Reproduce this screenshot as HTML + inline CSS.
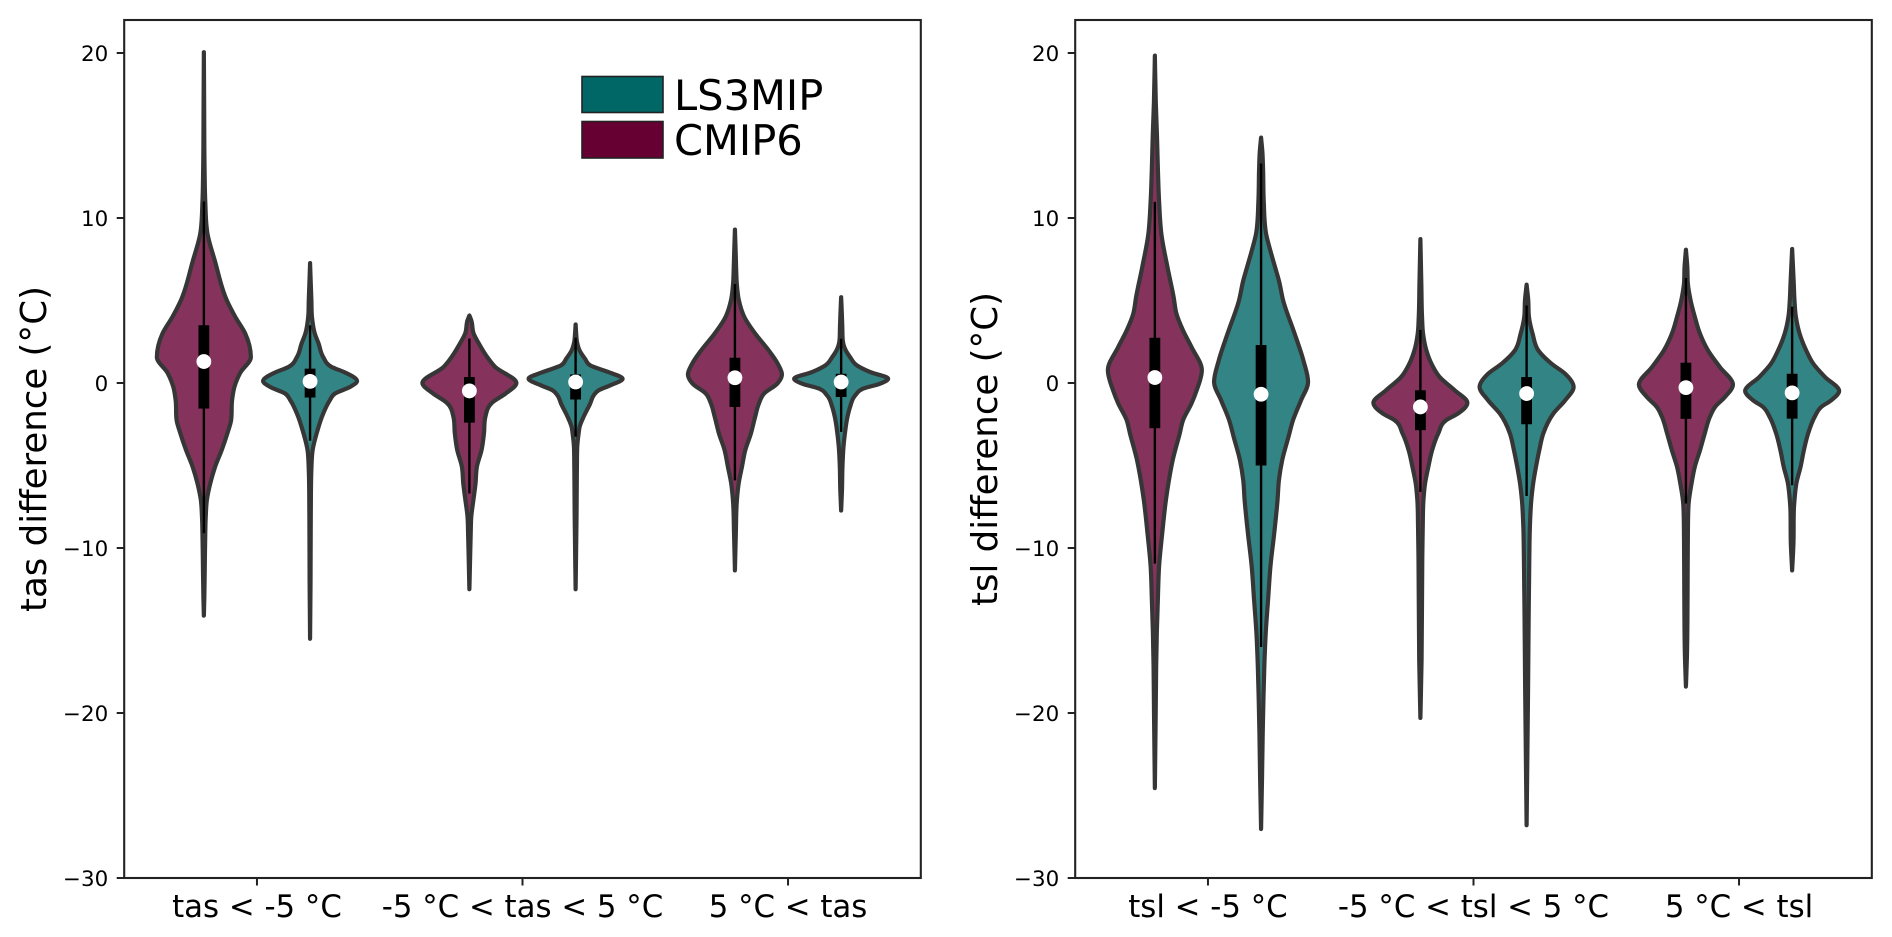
<!DOCTYPE html>
<html lang="en">
<head>
<meta charset="utf-8">
<title>tas and tsl difference violin plots</title>
<style>
html,body{margin:0;padding:0;background:#fff;}
svg{display:block;}
text{font-family:"DejaVu Sans","Liberation Sans",sans-serif;fill:#000;}
</style>
</head>
<body>
<svg id="chart" xmlns="http://www.w3.org/2000/svg" width="1892" height="937" viewBox="0 0 1892 937">
  <rect x="0" y="0" width="1892" height="937" fill="#fff"/>
</svg>
<script>
// ---------- tick and category labels ----------
const yTickValues = [20, 10, 0, -10, -20, -30];
const tasCategories = ['tas < -5 °C', '-5 °C < tas < 5 °C', '5 °C < tas'];
const tslCategories = ['tsl < -5 °C', '-5 °C < tsl < 5 °C', '5 °C < tsl'];

// ---------- violin outlines: temperature levels (°C) and relative density (0..1) ----------
const tasColdCmip6Levels = [20.05,17,13,11,9,7.4,5,4,3,1.57,.6,-.24,-1.05,-2.25,-3.05,-4.06,-5.07,-6.1,-7.1,-8.1,-9.1,-11,-13,-14.1];
const tasColdCmip6Density = [0,.006,.015,.03,.08,.235,.49,.67,.88,1,.77,.65,.6,.58,.5,.38,.24,.135,.064,.04,.03,.02,.01,0];
const tasColdLs3mipLevels = [7.27,6,5,4,3,2.4,1.57,.97,.63,.12,-.24,-.64,-1.05,-1.85,-3.05,-4.05,-5.07,-8,-12,-15.5];
const tasColdLs3mipDensity = [0,.015,.028,.04,.1,.18,.28,.46,.75,1,.85,.53,.42,.28,.14,.055,.03,.015,.01,0];
const tasMidCmip6Levels = [4.09,3.8,3,2.4,1.57,.97,0,-.64,-1.2,-2.05,-3.05,-4.05,-5.07,-6.1,-7.1,-8.1,-9.1,-11,-12.5];
const tasMidCmip6Density = [0,.04,.09,.2,.38,.55,1,.77,.48,.34,.31,.26,.16,.13,.085,.04,.028,.012,0];
const tasMidLs3mipLevels = [3.55,3,2.48,1.97,1.47,1.07,.66,.26,-.14,-.44,-.75,-1.25,-2.05,-2.66,-3.06,-3.87,-5.07,-8,-12.5];
const tasMidLs3mipDensity = [0,.012,.03,.085,.2,.31,.7,1,.74,.49,.385,.31,.17,.085,.064,.035,.028,.02,0];
const tasWarmCmip6Levels = [9.3,8,7,6,5,4,3,1.97,1.17,.52,-.04,-.64,-1.25,-2.05,-3.06,-4.07,-5.07,-6.08,-7.1,-9,-11.36];
const tasWarmCmip6Density = [0,.015,.025,.04,.085,.2,.43,.72,.91,1,.9,.62,.51,.43,.34,.22,.15,.08,.042,.02,0];
const tasWarmLs3mipLevels = [5.2,4.2,3.38,2.58,1.97,1.57,1.07,.66,.26,-.04,-.34,-.75,-1.45,-2.05,-3.06,-3.87,-5.07,-6.5,-7.73];
const tasWarmLs3mipDensity = [0,.015,.025,.035,.1,.19,.335,.62,1,.83,.47,.3,.19,.135,.08,.05,.028,.018,0];
const tslColdCmip6Levels = [19.84,17,15,13,11,9,7,5.2,4.19,3.18,2.18,.77,-.44,-1.24,-2.25,-3.05,-4.67,-5.88,-7.1,-9.1,-11.1,-13.1,-15.1,-17.1,-20,-24.55];
const tslColdCmip6Density = [0,.02,.045,.064,.09,.14,.27,.4,.46,.6,.78,1,.89,.78,.6,.53,.38,.3,.235,.157,.09,.064,.042,.028,.018,0];
const tslColdLs3mipLevels = [14.87,14,13,11,9,8,7,6.2,5,3.1,1.37,.06,-1.05,-2.25,-3.3,-4.67,-5.88,-7.1,-9.1,-11.1,-13.1,-15.1,-17.1,-19.2,-21.2,-24,-27.03];
const tslColdLs3mipDensity = [0,.028,.042,.057,.11,.2,.3,.38,.47,.7,.9,1,.85,.68,.58,.45,.38,.35,.28,.2,.15,.1,.07,.05,.035,.02,0];
const tslMidCmip6Levels = [8.72,6,4,2.98,1.97,1.17,.36,-.44,-1.2,-1.85,-2.25,-3.06,-4.07,-5.07,-6.08,-7.09,-8.7,-10.7,-16.8,-20.3];
const tslMidCmip6Density = [0,.02,.035,.057,.128,.235,.41,.73,1,.8,.55,.38,.25,.17,.1,.065,.05,.04,.025,0];
const tslMidLs3mipLevels = [5.96,5,4,2.98,1.97,1.17,.56,-.24,-1.05,-1.85,-3.06,-4.07,-5.07,-6.08,-7.09,-8.7,-10.7,-14.7,-18.8,-22.8,-26.8];
const tslMidLs3mipDensity = [0,.035,.05,.128,.25,.53,.82,1,.82,.57,.355,.27,.2,.14,.1,.07,.057,.042,.03,.015,0];
const tslWarmCmip6Levels = [8.08,7,6,5,4,2.98,1.97,.97,-.1,-.85,-1.45,-2.05,-3.06,-4.07,-5.07,-6.08,-7.4,-9.7,-12.7,-16.7,-18.4];
const tslWarmCmip6Density = [0,.03,.042,.1,.19,.3,.47,.72,1,.83,.62,.51,.4,.3,.19,.12,.055,.04,.035,.02,0];
const tslWarmLs3mipLevels = [8.12,6,5,4,2.98,1.97,1.17,.36,-.48,-1.05,-1.45,-2.05,-3.06,-4.07,-5.07,-6.08,-7.09,-7.7,-9.7,-11.36];
const tslWarmLs3mipDensity = [0,.035,.05,.08,.16,.3,.45,.7,1,.83,.62,.48,.34,.25,.18,.09,.05,.036,.028,0];

// ---------- box statistics by category (cold, mid, warm) ----------
const tasCmip6Median = [1.3,-.48,.32];
const tasCmip6Q3 = [3.5,.36,1.53];
const tasCmip6Q1 = [-1.55,-2.4,-1.45];
const tasCmip6WhiskerHigh = [11,2.7,6];
const tasCmip6WhiskerLow = [-9.1,-6.7,-5.9];
const tasLs3mipMedian = [.1,.06,.06];
const tasLs3mipQ3 = [.87,.52,.56];
const tasLs3mipQ1 = [-.88,-1,-.85];
const tasLs3mipWhiskerHigh = [3.5,2.74,2.68];
const tasLs3mipWhiskerLow = [-3.5,-3.26,-2.96];
const tslCmip6Median = [.33,-1.45,-.28];
const tslCmip6Q3 = [2.74,-.44,1.23];
const tslCmip6Q1 = [-2.74,-2.86,-2.17];
const tslCmip6WhiskerHigh = [10.98,3.22,6.36];
const tslCmip6WhiskerLow = [-10.95,-6.6,-7.3];
const tslLs3mipMedian = [-.68,-.64,-.6];
const tslLs3mipQ3 = [2.3,.36,.56];
const tslLs3mipQ1 = [-5,-2.5,-2.16];
const tslLs3mipWhiskerHigh = [13.3,4.7,4.63];
const tslLs3mipWhiskerLow = [-16,-6.85,-6.2];

// ---------- layout ----------
const NS = 'http://www.w3.org/2000/svg';
const svg = document.getElementById('chart');
const AXIS_TOP = 20, AXIS_BOTTOM = 878, AXIS_W = 796.6;
const Y_MIN = -30, Y_MAX = 22;
const HUE_OFFSET = 0.2, DENSITY_SPAN = 0.177;
const INK = '#222', OUTLINE = '#363636';
const COLORS = { cmip6: '#660033', ls3mip: '#006666' };

function yScale(v) { return AXIS_BOTTOM - (v - Y_MIN) / (Y_MAX - Y_MIN) * (AXIS_BOTTOM - AXIS_TOP); }
function xScale(panel, pos) { return panel.left + (pos + 0.5) / 3 * AXIS_W; }
function widthScale(d) { return d * DENSITY_SPAN * AXIS_W / 3; }

function make(tag, attrs, parent) {
  const el = document.createElementNS(NS, tag);
  for (const k in attrs) el.setAttribute(k, attrs[k]);
  parent.appendChild(el);
  return el;
}

// Smooth cubic through the points (offset, pixelY): three-point tangents with a
// limiter that only stops overshoot, written as Bézier segments.
function smoothSegments(ys, xs) {
  const n = ys.length, h = [], s = [], m = [];
  for (let i = 0; i < n - 1; i++) { h.push(ys[i+1] - ys[i]); s.push((xs[i+1] - xs[i]) / h[i]); }
  m[0] = s[0]; m[n-1] = s[n-2];
  for (let i = 1; i < n - 1; i++) {
    if (s[i-1] * s[i] <= 0) { m[i] = 0; continue; }
    const t = (h[i] * s[i-1] + h[i-1] * s[i]) / (h[i-1] + h[i]);
    const lim = 3 * Math.min(Math.abs(s[i-1]), Math.abs(s[i]));
    m[i] = Math.sign(t) * Math.min(Math.abs(t), lim);
  }
  const segs = [];
  for (let i = 0; i < n - 1; i++) {
    segs.push([ys[i] + h[i]/3, xs[i] + m[i]*h[i]/3, ys[i+1] - h[i]/3, xs[i+1] - m[i+1]*h[i]/3, ys[i+1], xs[i+1]]);
  }
  return segs;
}

function violinPath(cx, levels, density) {
  const ys = levels.map(yScale);
  const ws = density.map(widthScale);
  const segs = smoothSegments(ys, ws);
  const f = n => n.toFixed(2);
  let d = 'M' + f(cx + ws[0]) + ' ' + f(ys[0]);
  segs.forEach(g => {
    d += 'C' + f(cx + g[1]) + ' ' + f(g[0]) + ' ' + f(cx + g[3]) + ' ' + f(g[2]) + ' ' + f(cx + g[5]) + ' ' + f(g[4]);
  });
  for (let i = segs.length - 1; i >= 0; i--) {
    const g = segs[i];
    const prevY = ys[i], prevW = ws[i];
    d += 'C' + f(cx - g[3]) + ' ' + f(g[2]) + ' ' + f(cx - g[1]) + ' ' + f(g[0]) + ' ' + f(cx - prevW) + ' ' + f(prevY);
  }
  return d + 'Z';
}

const panels = [
  {
    key: 'tas', left: 124.2, title: 'tas difference (°C)', titleX: 46, categories: tasCategories,
    cmip6: { levels: [tasColdCmip6Levels, tasMidCmip6Levels, tasWarmCmip6Levels], density: [tasColdCmip6Density, tasMidCmip6Density, tasWarmCmip6Density], median: tasCmip6Median, q1: tasCmip6Q1, q3: tasCmip6Q3, lo: tasCmip6WhiskerLow, hi: tasCmip6WhiskerHigh },
    ls3mip: { levels: [tasColdLs3mipLevels, tasMidLs3mipLevels, tasWarmLs3mipLevels], density: [tasColdLs3mipDensity, tasMidLs3mipDensity, tasWarmLs3mipDensity], median: tasLs3mipMedian, q1: tasLs3mipQ1, q3: tasLs3mipQ3, lo: tasLs3mipWhiskerLow, hi: tasLs3mipWhiskerHigh }
  },
  {
    key: 'tsl', left: 1075.2, title: 'tsl difference (°C)', titleX: 997, categories: tslCategories,
    cmip6: { levels: [tslColdCmip6Levels, tslMidCmip6Levels, tslWarmCmip6Levels], density: [tslColdCmip6Density, tslMidCmip6Density, tslWarmCmip6Density], median: tslCmip6Median, q1: tslCmip6Q1, q3: tslCmip6Q3, lo: tslCmip6WhiskerLow, hi: tslCmip6WhiskerHigh },
    ls3mip: { levels: [tslColdLs3mipLevels, tslMidLs3mipLevels, tslWarmLs3mipLevels], density: [tslColdLs3mipDensity, tslMidLs3mipDensity, tslWarmLs3mipDensity], median: tslLs3mipMedian, q1: tslLs3mipQ1, q3: tslLs3mipQ3, lo: tslLs3mipWhiskerLow, hi: tslLs3mipWhiskerHigh }
  }
];

function drawViolin(group, panel, series, cat, offset) {
  const s = panel[series];
  const cx = xScale(panel, cat + offset);
  const slug = panel.key + '-' + series + '-' + cat;

  const body = make('path', { d: violinPath(cx, s.levels[cat], s.density[cat]), fill: COLORS[series], 'fill-opacity': 0.8, stroke: OUTLINE, 'stroke-width': 4.2, 'stroke-linejoin': 'round' }, group);
  
  

  const whisker = make('line', { x1: cx, x2: cx, y1: yScale(s.hi[cat]), y2: yScale(s.lo[cat]), stroke: '#000', 'stroke-width': 2.4 }, group);
  
  

  const box = make('rect', { x: cx - 5.4, width: 10.8, y: yScale(s.q3[cat]), height: yScale(s.q1[cat]) - yScale(s.q3[cat]), fill: '#000' }, group);
  
  

  const median = make('circle', { cx: cx, cy: yScale(s.median[cat]), r: 7.4, fill: '#fff' }, group);
  
  
}

panels.forEach(panel => {
  const g = make('g', {}, svg);
  
  

  yTickValues.forEach(v => {
    const y = yScale(v);
    const tick = make('line', { x1: panel.left - 7.5, x2: panel.left, y1: y, y2: y, stroke: INK, 'stroke-width': 2 }, g);
    
    
    const label = make('text', { x: panel.left - 16, y: y + 8, 'text-anchor': 'end', 'font-size': 21.4, fill: '#111' }, g);
    label.textContent = String(v).replace('-', '\u2212');
    
    
  });

  panel.categories.forEach((c, i) => {
    const x = xScale(panel, i);
    const tick = make('line', { x1: x, x2: x, y1: AXIS_BOTTOM, y2: AXIS_BOTTOM + 7.5, stroke: INK, 'stroke-width': 2 }, g);
    
    
    const label = make('text', { x: x, y: 917, 'text-anchor': 'middle', 'font-size': 30.8 }, g);
    label.textContent = c;
    
    
  });

  panel.categories.forEach((c, i) => {
    drawViolin(g, panel, 'cmip6', i, -HUE_OFFSET);
    drawViolin(g, panel, 'ls3mip', i, HUE_OFFSET);
  });

  const frame = make('rect', { x: panel.left, y: AXIS_TOP, width: AXIS_W, height: AXIS_BOTTOM - AXIS_TOP, fill: 'none', stroke: INK, 'stroke-width': 2.1 }, g);
  
  

  const midY = (AXIS_TOP + AXIS_BOTTOM) / 2;
  const title = make('text', { x: panel.titleX, y: midY, 'text-anchor': 'middle', 'font-size': 35.6, transform: 'rotate(-90 ' + panel.titleX + ' ' + midY + ')' }, g);
  title.textContent = panel.title;
  
  
});

// ---------- legend ----------
const legend = make('g', {}, svg);



const swatchA = make('rect', { x: 582, y: 76.5, width: 81, height: 36, fill: COLORS.ls3mip, stroke: '#222', 'stroke-width': 1.6 }, legend);


const labelA = make('text', { x: 674, y: 110, 'font-size': 41.6 }, legend);
labelA.textContent = 'LS3MIP';



const swatchB = make('rect', { x: 582, y: 121.5, width: 81, height: 36.5, fill: COLORS.cmip6, stroke: '#222', 'stroke-width': 1.6 }, legend);


const labelB = make('text', { x: 674, y: 155, 'font-size': 41.6 }, legend);
labelB.textContent = 'CMIP6';


</script>
</body>
</html>
